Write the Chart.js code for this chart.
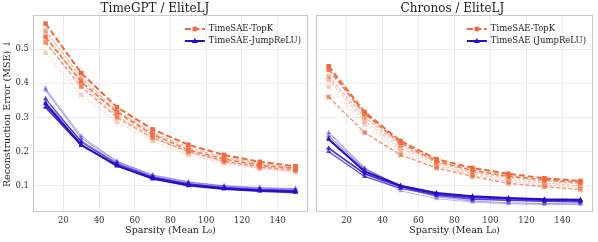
<!DOCTYPE html>
<html>
<head>
<meta charset="utf-8">
<script src="https://cdn.jsdelivr.net/npm/chart.js@4.4.1/dist/chart.umd.min.js"></script>
<style>
  html, body { margin: 0; padding: 0; background: #fff; }
  #wrap { position: relative; width: 598px; height: 242px; }
  #left { position: absolute; left: 0; top: 0; width: 312px; height: 242px; }
  #right { position: absolute; left: 312px; top: 0; width: 286px; height: 242px; }
</style>
</head>
<body>
<div id="wrap">
  <div id="left"><canvas id="c1"></canvas></div>
  <div id="right"><canvas id="c2"></canvas></div>
</div>
<script>
// x values and ticks
const sparsity = [10, 30, 50, 70, 90, 110, 130, 150];
const xTicks = [20, 40, 60, 80, 100, 120, 140];
const yTicks = [0.1, 0.2, 0.3, 0.4, 0.5];

const panelTitles = ['TimeGPT / EliteLJ', 'Chronos / EliteLJ'];
const topkLabels = ['TimeSAE-TopK', 'TimeSAE-TopK'];
const jumpLabels = ['TimeSAE-JumpReLU)', 'TimeSAE (JumpReLU)'];

// TimeGPT panel, one row per run
const timegptTopK = [
  [0.575, 0.430, 0.330, 0.265, 0.220, 0.190, 0.170, 0.157],
  [0.535, 0.405, 0.315, 0.250, 0.205, 0.178, 0.160, 0.150],
  [0.520, 0.390, 0.300, 0.240, 0.200, 0.172, 0.155, 0.145],
  [0.555, 0.415, 0.320, 0.255, 0.212, 0.183, 0.165, 0.152],
  [0.545, 0.400, 0.305, 0.245, 0.198, 0.170, 0.152, 0.143],
  [0.490, 0.366, 0.286, 0.231, 0.190, 0.165, 0.150, 0.140]
];
const timegptJump = [
  [0.340, 0.220, 0.158, 0.122, 0.102, 0.092, 0.086, 0.083],
  [0.330, 0.218, 0.160, 0.120, 0.100, 0.090, 0.084, 0.080],
  [0.355, 0.228, 0.163, 0.125, 0.105, 0.094, 0.088, 0.085],
  [0.345, 0.232, 0.166, 0.127, 0.107, 0.096, 0.090, 0.087],
  [0.380, 0.240, 0.170, 0.130, 0.110, 0.099, 0.093, 0.090],
  [0.386, 0.246, 0.172, 0.132, 0.112, 0.100, 0.095, 0.092]
];

// Chronos panel
const chronosTopK = [
  [0.450, 0.316, 0.231, 0.178, 0.152, 0.135, 0.122, 0.114],
  [0.440, 0.310, 0.225, 0.172, 0.145, 0.128, 0.117, 0.110],
  [0.360, 0.256, 0.190, 0.152, 0.127, 0.107, 0.097, 0.089],
  [0.420, 0.300, 0.218, 0.168, 0.140, 0.124, 0.113, 0.106],
  [0.410, 0.290, 0.210, 0.162, 0.135, 0.118, 0.108, 0.100],
  [0.390, 0.280, 0.200, 0.157, 0.130, 0.112, 0.102, 0.095]
];
const chronosJump = [
  [0.236, 0.142, 0.100, 0.079, 0.069, 0.064, 0.060, 0.059],
  [0.210, 0.135, 0.097, 0.076, 0.066, 0.062, 0.058, 0.057],
  [0.200, 0.127, 0.092, 0.072, 0.060, 0.057, 0.054, 0.052],
  [0.246, 0.148, 0.100, 0.074, 0.062, 0.058, 0.055, 0.054],
  [0.256, 0.152, 0.098, 0.068, 0.055, 0.050, 0.048, 0.047],
  [0.240, 0.140, 0.085, 0.062, 0.052, 0.047, 0.045, 0.045]
];

// styling per run
const runAlpha = [1, 0.85, 0.7, 0.5, 0.4, 0.3];
const runWidth = [2, 1.7, 1.4, 1.2, 1.1, 1];
const ORANGE = [242, 104, 58];
const BLUE = [40, 12, 200];
const FONT = '"DejaVu Serif", "Liberation Serif", serif';

const rgba = (c, a) => `rgba(${c[0]},${c[1]},${c[2]},${a})`;

function makeSets(topk, jump) {
  const sets = [];
  topk.forEach((row, i) => {
    sets.push({
      data: row.map((v, j) => ({ x: sparsity[j], y: v })),
      borderColor: rgba(ORANGE, runAlpha[i]),
      backgroundColor: rgba(ORANGE, runAlpha[i]),
      borderWidth: runWidth[i],
      borderDash: [runWidth[i] * 3, runWidth[i] * 1.4],
      pointStyle: 'rect',
      pointRadius: 3.2,
      pointBorderWidth: 0
    });
  });
  jump.forEach((row, i) => {
    sets.push({
      data: row.map((v, j) => ({ x: sparsity[j], y: v })),
      borderColor: rgba(BLUE, runAlpha[i]),
      backgroundColor: rgba(BLUE, runAlpha[i]),
      borderWidth: runWidth[i],
      pointStyle: 'triangle',
      pointRadius: 3,
      pointBorderWidth: 0
    });
  });
  return sets;
}

// frame around plot area + legend inside upper right
const framePlugin = {
  id: 'frame',
  beforeDatasetsDraw(chart) {
    const { ctx, chartArea: a } = chart;
    ctx.save();
    ctx.strokeStyle = '#c8c8c8';
    ctx.lineWidth = 1;
    ctx.strokeRect(a.left + 0.5, a.top + 0.5, a.right - a.left - 1, a.bottom - a.top - 1);
    ctx.restore();
  },
  afterDraw(chart, args, opts) {
    const { ctx, chartArea: a } = chart;
    ctx.save();
    ctx.font = '8.5px ' + FONT;
    const w = Math.max(ctx.measureText(opts.labels[0]).width, ctx.measureText(opts.labels[1]).width);
    const lx = a.right - 7 - w - 4 - 20;
    const rows = [a.top + 14, a.top + 26];
    // TopK sample
    ctx.strokeStyle = rgba(ORANGE, 1);
    ctx.fillStyle = rgba(ORANGE, 1);
    ctx.lineWidth = 2;
    ctx.setLineDash([6, 2.6]);
    ctx.beginPath(); ctx.moveTo(lx, rows[0]); ctx.lineTo(lx + 20, rows[0]); ctx.stroke();
    ctx.setLineDash([]);
    ctx.fillRect(lx + 10 - 2.3, rows[0] - 2.3, 4.6, 4.6);
    // JumpReLU sample
    ctx.strokeStyle = rgba(BLUE, 1);
    ctx.fillStyle = rgba(BLUE, 1);
    ctx.beginPath(); ctx.moveTo(lx, rows[1]); ctx.lineTo(lx + 20, rows[1]); ctx.stroke();
    ctx.beginPath();
    ctx.moveTo(lx + 10, rows[1] - 3);
    ctx.lineTo(lx + 13, rows[1] + 2);
    ctx.lineTo(lx + 7, rows[1] + 2);
    ctx.closePath(); ctx.fill();
    ctx.fillStyle = '#222';
    ctx.textBaseline = 'middle';
    ctx.fillText(opts.labels[0], lx + 24, rows[0]);
    ctx.fillText(opts.labels[1], lx + 24, rows[1]);
    ctx.restore();
  }
};

function makeChart(id, idx, topk, jump, isLeft) {
  return new Chart(document.getElementById(id), {
    type: 'line',
    data: { datasets: makeSets(topk, jump) },
    plugins: [framePlugin],
    options: {
      responsive: true,
      maintainAspectRatio: false,
      animation: false,
      layout: { padding: { left: 0, right: isLeft ? 2 : 5, top: 0, bottom: 0 } },
      plugins: {
        legend: { display: false },
        tooltip: { enabled: false },
        title: {
          display: true,
          text: panelTitles[idx],
          color: '#222',
          font: { family: FONT, size: 12, weight: 'normal', lineHeight: 1 },
          padding: { top: 3, bottom: 0 }
        },
        frame: { labels: [topkLabels[idx], jumpLabels[idx]] }
      },
      scales: {
        x: {
          type: 'linear',
          min: 3,
          max: 157,
          afterBuildTicks: s => { s.ticks = xTicks.map(v => ({ value: v })); },
          afterFit: s => { s.height = 30; },
          grid: { color: '#ececec', drawTicks: false },
          border: { display: false },
          ticks: { color: '#333', padding: 4, font: { family: FONT, size: 8.5 } },
          title: {
            display: true,
            text: 'Sparsity (Mean L₀)',
            color: '#222',
            font: { family: FONT, size: 9.5 },
            padding: { top: 0, bottom: 6 }
          }
        },
        y: {
          min: 0.023,
          max: 0.6,
          afterBuildTicks: s => { s.ticks = yTicks.map(v => ({ value: v })); },
          afterFit: s => { s.width = isLeft ? 33 : 4; },
          grid: { color: '#ececec', drawTicks: false },
          border: { display: false },
          ticks: {
            display: isLeft,
            color: '#333',
            padding: 4,
            font: { family: FONT, size: 8.5 },
            callback: v => v.toFixed(1)
          },
          title: {
            display: isLeft,
            text: 'Reconstruction Error (MSE) ↓',
            color: '#222',
            font: { family: FONT, size: 9.5 },
            padding: { top: 2, bottom: 0 }
          }
        }
      }
    }
  });
}

document.addEventListener('DOMContentLoaded', () => {
  makeChart('c1', 0, timegptTopK, timegptJump, true);
  makeChart('c2', 1, chronosTopK, chronosJump, false);
});
</script>
</body>
</html>
